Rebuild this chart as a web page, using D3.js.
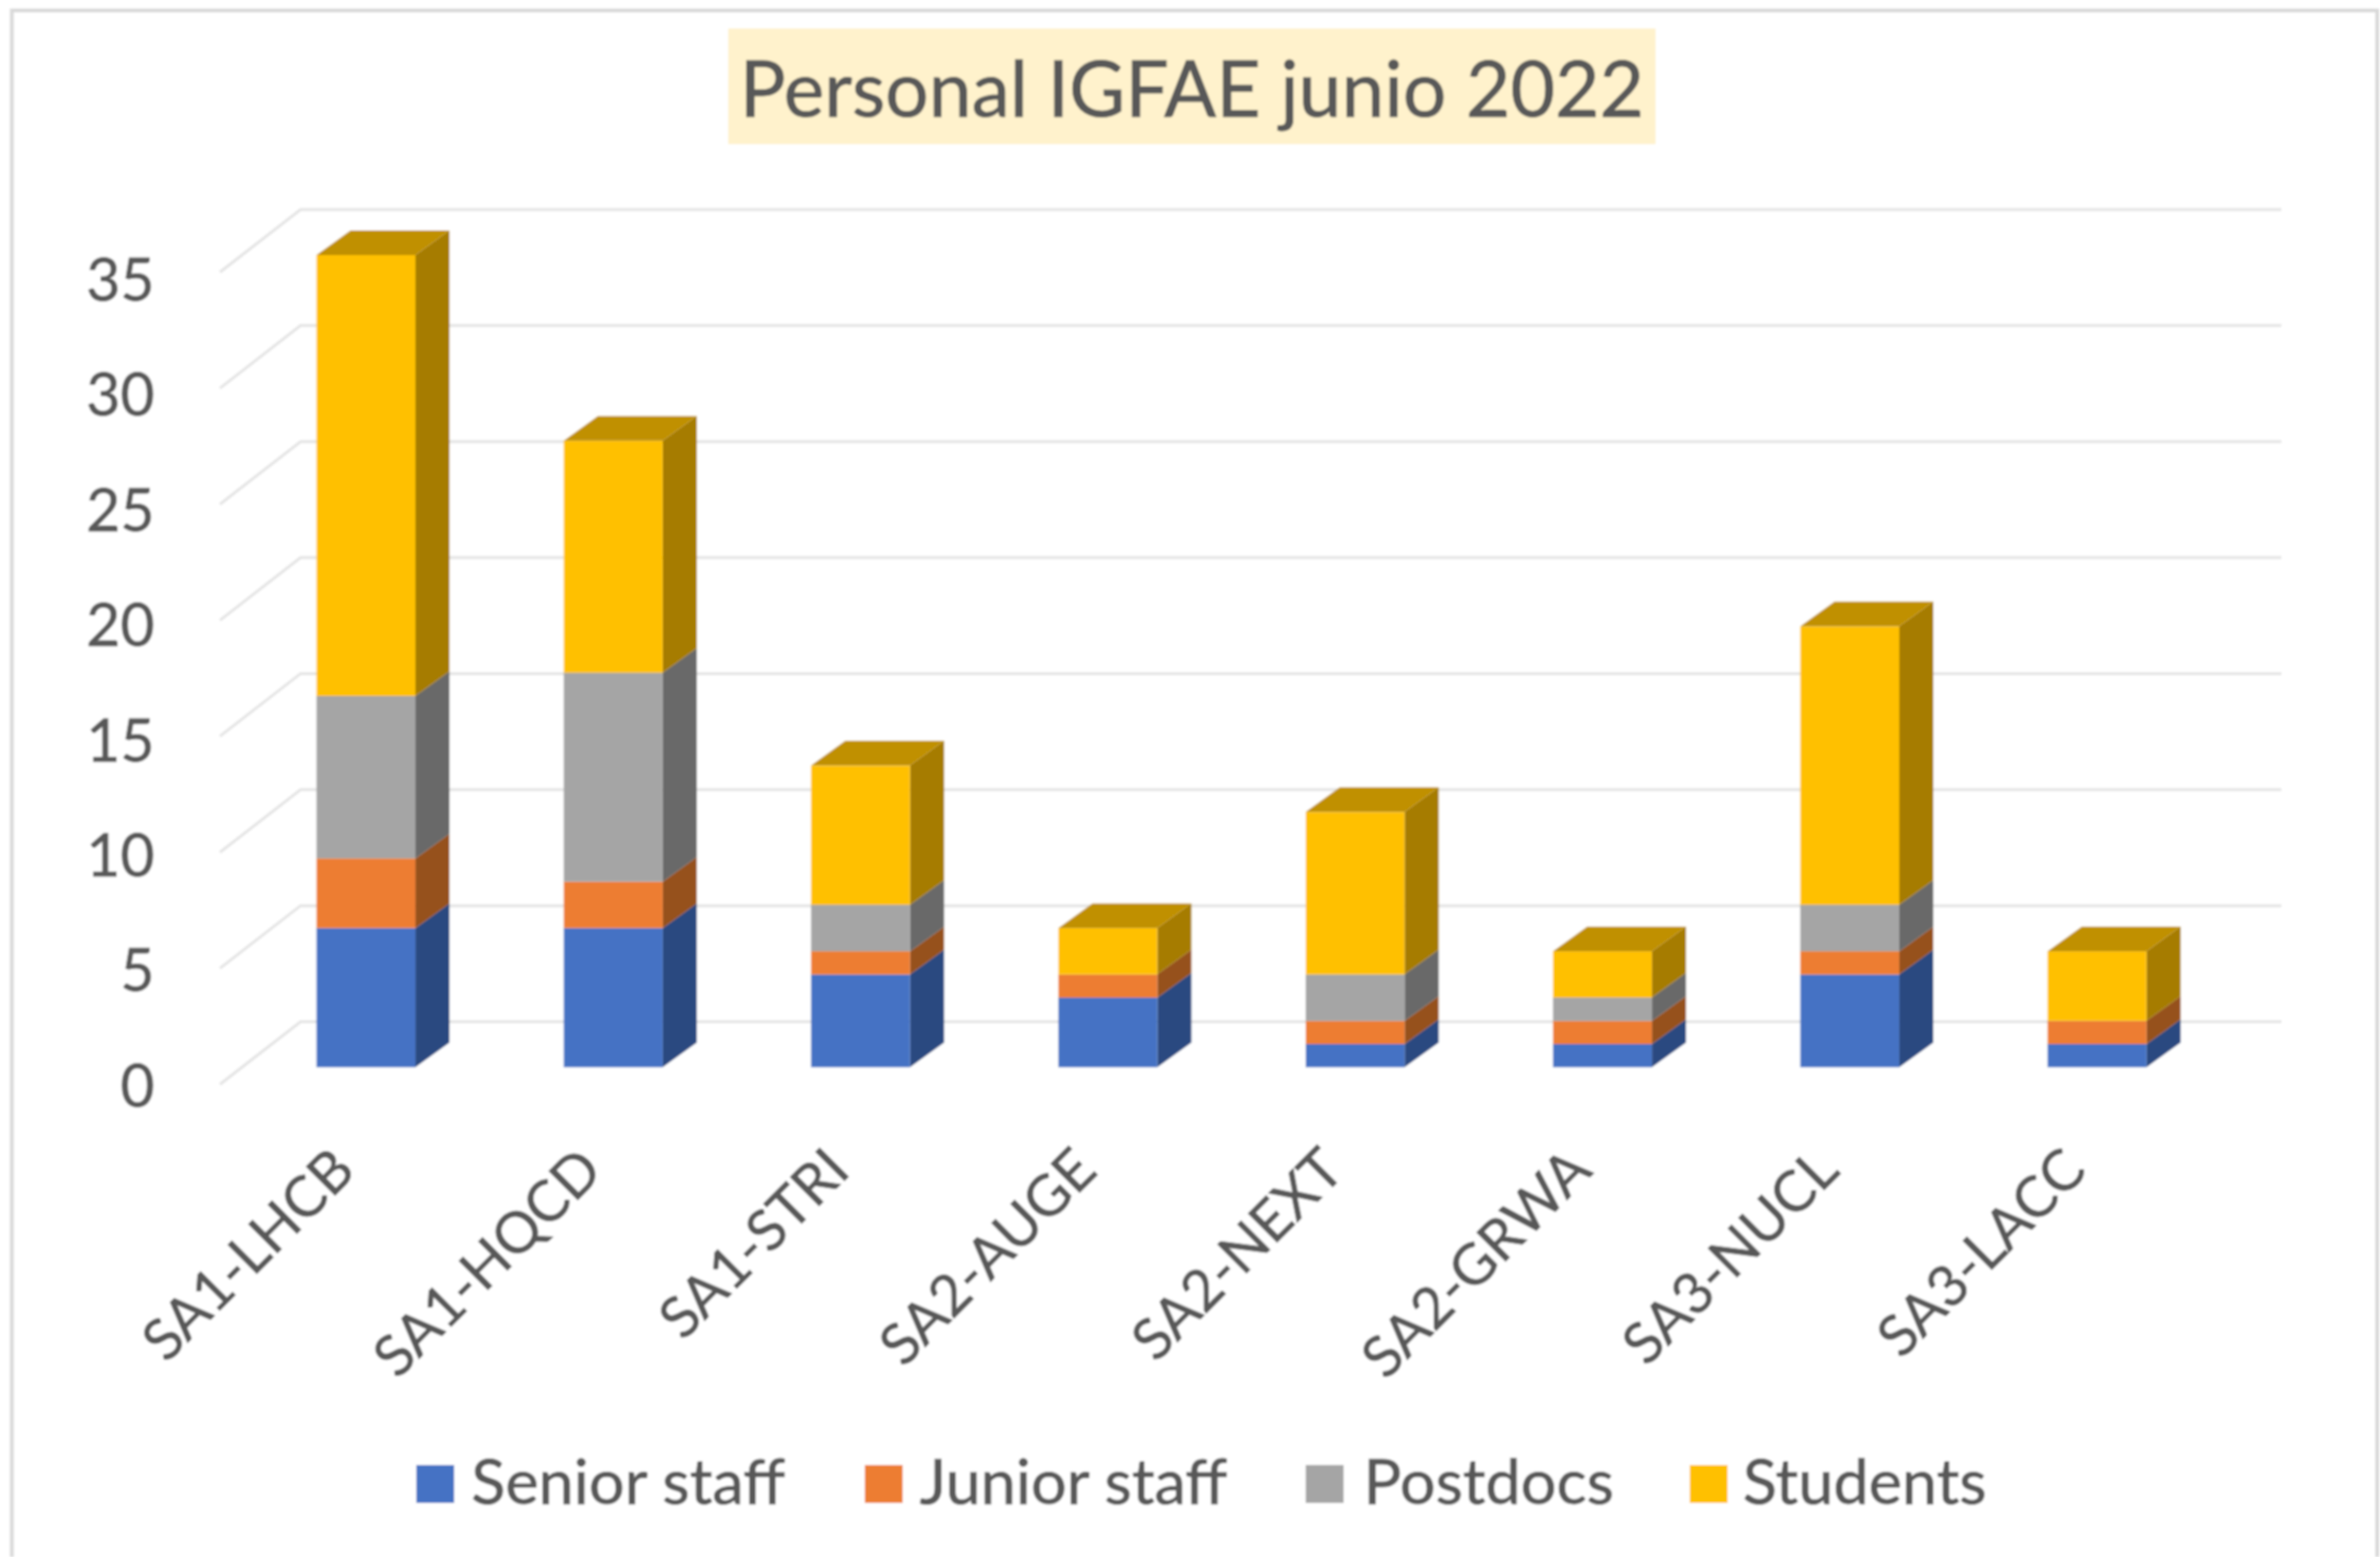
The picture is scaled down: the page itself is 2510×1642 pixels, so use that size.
<!DOCTYPE html>
<html><head><meta charset="utf-8">
<script src="https://cdnjs.cloudflare.com/ajax/libs/d3/7.8.5/d3.min.js"></script>
<style>html,body{margin:0;padding:0;background:#fff}svg{display:block}text{font-family:Lato,sans-serif;fill:#595959;stroke:#595959;stroke-width:0.9px}</style>
</head><body><svg id="c" width="2510" height="1642"></svg>
<script>
const categories=["SA1-LHCB","SA1-HQCD","SA1-STRI","SA2-AUGE","SA2-NEXT","SA2-GRWA","SA3-NUCL","SA3-LACC"];
const seriesNames=["Senior staff","Junior staff","Postdocs","Students"];
const seniorStaff=[6,6,4,3,1,1,4,1];
const juniorStaff=[3,2,1,1,1,1,1,1];
const postdocs=[7,9,2,0,2,1,2,0];
const students=[19,10,6,2,7,2,12,3];
const tickValues=[0,5,10,15,20,25,30,35];
const title="Personal IGFAE junio 2022";
const frontColors=["#4472c4","#ed7d31","#a5a5a5","#ffc000"];
const sideColors=["#2a4a80","#96511c","#696969","#a67c00"];
const topColor="#c09000";

const svg=d3.select("#c");
const defs=svg.append("defs");
defs.append("filter").attr("id","soft").attr("x","0").attr("y","0").attr("width","1").attr("height","1")
  .append("feGaussianBlur").attr("stdDeviation",1.1);
const g=svg.append("g").attr("filter","url(#soft)");
g.append("rect").attr("width",2510).attr("height",1642).attr("fill","#fff");
g.append("path").attr("d","M12.5,1642V11H2507V1642").attr("fill","none").attr("stroke","#d9d9d9").attr("stroke-width",4);

const rows=categories.map((c,i)=>({c,s0:seniorStaff[i],s1:juniorStaff[i],s2:postdocs[i],s3:students[i]}));
const keys=["s0","s1","s2","s3"];
const stacked=d3.stack().keys(keys)(rows);

const y=d3.scaleLinear().domain([0,35]).range([1125.5,269]);
const x=d3.scaleBand().domain(categories).range([255.5,2342]).paddingInner(0.6).paddingOuter(0.3);
const depthX=36,depthY=26;
const wallDY=-48;
const backLeft=317,backRight=2406,frontLeft=232;
const gy=v=>y(v)+wallDY;
const grid=g.append("g");
tickValues.forEach(v=>{
  grid.append("path").attr("d",`M${frontLeft},${gy(v)+66}L${backLeft},${gy(v)}H${backRight}`)
    .attr("fill","none").attr("stroke","#e4e4e4").attr("stroke-width",3);
});
const yLab=d3.scaleLinear().domain([0,35]).range([1144,294]);
const ya=g.append("g").attr("transform","translate(163,0)").call(d3.axisLeft(yLab).tickValues(tickValues).tickSize(0).tickPadding(0));
ya.select(".domain").remove();
ya.selectAll("text").attr("font-size",62).attr("dy","0.36em").style("font-family","Lato,sans-serif");

const bars=g.append("g");
categories.forEach((c,i)=>{
  const x0=x(c),x1=x0+x.bandwidth();
  const group=bars.append("g");
  keys.forEach((k,ki)=>{
    const d=stacked[ki][i];
    if(d[1]===d[0])return;
    const yb=y(d[0]),yt=y(d[1]);
    group.append("path").attr("d",`M${x1},${yb}L${x1+depthX},${yb-depthY}V${yt-depthY}L${x1},${yt}Z`).attr("fill",sideColors[ki]);
    group.append("rect").attr("x",x0).attr("y",yt).attr("width",x.bandwidth()).attr("height",yb-yt).attr("fill",frontColors[ki]);
  });
  const top=y(stacked[3][i][1]);
  group.append("path").attr("d",`M${x0},${top}L${x0+depthX},${top-depthY}H${x1+depthX}L${x1},${top}Z`).attr("fill",topColor);
});

const xa=g.append("g");
categories.forEach(c=>{
  const cx=x(c)+x.bandwidth()/2;
  xa.append("text").attr("transform",`translate(${cx-9},1237) rotate(-45)`).attr("text-anchor","end")
    .attr("font-size",60).text(c);
});

g.append("rect").attr("x",768).attr("y",30).attr("width",978).attr("height",122).attr("fill","#fff2cc");
g.append("text").attr("x",1257).attr("y",123).attr("text-anchor","middle").attr("font-size",81).text(title);

const legX=[439,912,1377,1782],legT=[497,970,1438,1838];
seriesNames.forEach((n,i)=>{
  g.append("rect").attr("x",legX[i]).attr("y",1545).attr("width",40).attr("height",40).attr("fill",frontColors[i]);
  g.append("text").attr("x",legT[i]).attr("y",1586).attr("font-size",66.5).text(n);
});
</script></body></html>
